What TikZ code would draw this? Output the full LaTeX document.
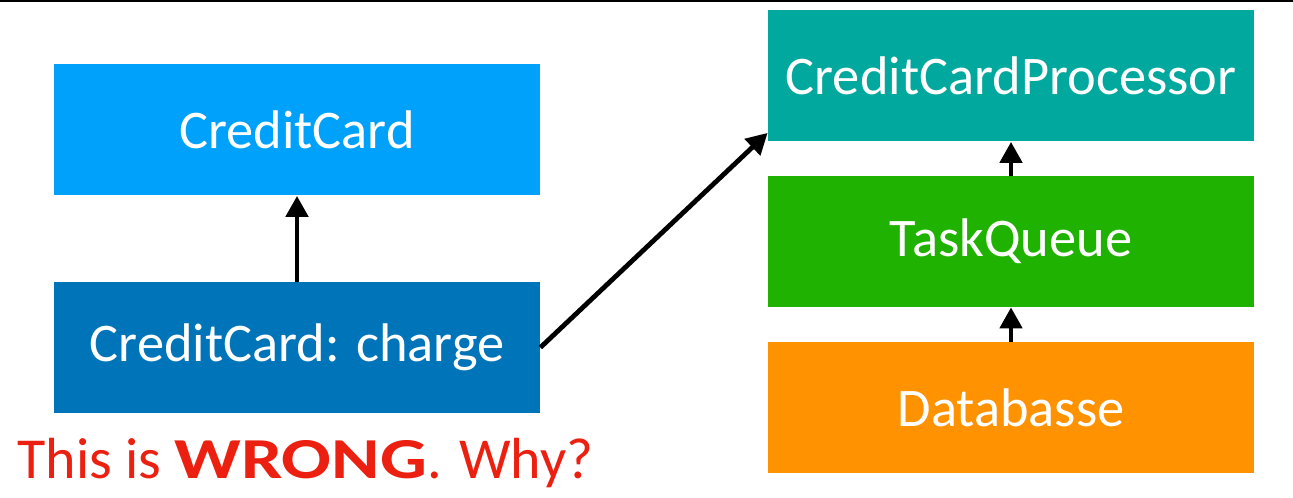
\documentclass[tikz,border=0pt]{standalone}
\usepackage{fontspec}
\setmainfont{Carlito}
\usetikzlibrary{arrows.meta}

\definecolor{cardblue}{RGB}{0,161,250}
\definecolor{chargeblue}{RGB}{0,116,185}
\definecolor{proczteal}{RGB}{0,168,157}
\definecolor{queuegreen}{RGB}{32,178,0}
\definecolor{dborange}{RGB}{255,146,0}
\definecolor{alertred}{RGB}{236,32,16}

\tikzset{
  box/.style={minimum width=243pt, minimum height=65.5pt, inner sep=0pt,
              text=white, font=\fontsize{27.2}{32}\selectfont},
  link/.style={line width=2.4pt, -{Triangle[length=10.5pt,width=11pt]}}
}

\begin{document}
\begin{tikzpicture}[x=0.5pt,y=-0.5pt]
\useasboundingbox (0,0) rectangle (1293,497);
\fill[black] (0,0) rectangle (1293,2.5); % rule on top

% left column
\node[box,fill=cardblue]   (card)   at (297,130)   {CreditCard};
\node[box,fill=chargeblue] (charge) at (297,347.5) {CreditCard: charge};

% right column
\node[box,fill=proczteal]  (proc)  at (1011,76)    {CreditCardProcessor};
\node[box,fill=queuegreen] (queue) at (1011,241.5) {TaskQueue};
\node[box,fill=dborange]   (db)    at (1011,407.5) {Databasse};

\draw[link] (charge) -- (card);
\draw[link] (queue) -- (proc);
\draw[link] (db) -- (queue);
\draw[link] (charge.east) -- ([yshift=4.5pt]proc.south west);

\node[anchor=base west,inner sep=0pt,text=alertred,font=\fontsize{29}{34}\selectfont]
  (why) at (17,478) {This is \scalebox{1.27}[1]{\textbf{WRONG}}. Why?};
\end{tikzpicture}
\end{document}
